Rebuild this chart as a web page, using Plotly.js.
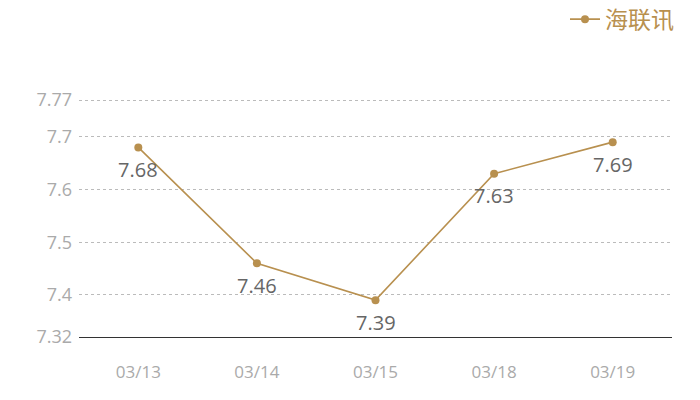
<!DOCTYPE html>
<html><head><meta charset="utf-8">
<script src="https://cdn.plot.ly/plotly-3.0.1.min.js"></script>
<style>html,body{margin:0;padding:0;background:#fff}#c{width:700px;height:400px}</style>
</head><body><div id="c"></div>
<script>
const categories = ["03/13","03/14","03/15","03/18","03/19"];
const values = [7.68, 7.46, 7.39, 7.63, 7.69];
const tickVals = [7.32, 7.4, 7.5, 7.6, 7.7, 7.77];
const tickText = ["7.32","7.4","7.5","7.6","7.7","7.77"];
const seriesName = "海联讯";
const gold = "#b8904f";
const fontFam = '"Open Sans","Noto Sans CJK SC",sans-serif';

const trace = {
  type: "scatter", mode: "lines+markers",
  x: categories, y: values, name: seriesName,
  line: {color: gold, width: 1.6},
  marker: {color: gold, size: 8},
  cliponaxis: false
};
const annotations = categories.map((c, i) => ({
  x: c, y: values[i], xref: "x", yref: "y",
  text: values[i].toFixed(2), showarrow: false,
  yshift: -22, font: {size: 20, color: "#666", family: fontFam}
}));
const layout = {
  width: 700, height: 400,
  margin: {l: 79, r: 28, t: 98, b: 63},
  paper_bgcolor: "#fff", plot_bgcolor: "#fff",
  font: {family: fontFam},
  showlegend: true,
  legend: {xref: "container", yref: "container", x: 0.97, xanchor: "right", y: 0.952, yanchor: "middle",
    orientation: "h", itemwidth: 30,
    font: {size: 23, color: gold, family: fontFam}, bgcolor: "rgba(0,0,0,0)"},
  annotations: annotations,
  xaxis: {type: "category", range: [-0.5, 4.5], showgrid: false, zeroline: false,
    showline: true, linecolor: "#333", linewidth: 1, ticks: "",
    tickfont: {size: 17, color: "#aaa", family: fontFam}, ticklabelstandoff: 20},
  yaxis: {range: [7.32, 7.7738], tickvals: tickVals, ticktext: tickText,
    showgrid: true, gridcolor: "#bbb", griddash: "dot", gridwidth: 1,
    zeroline: false, showline: false, ticks: "",
    tickfont: {size: 18, color: "#aaa", family: fontFam}, ticklabelstandoff: 6}
};
Plotly.newPlot("c", [trace], layout, {displayModeBar: false, staticPlot: true});
</script></body></html>
